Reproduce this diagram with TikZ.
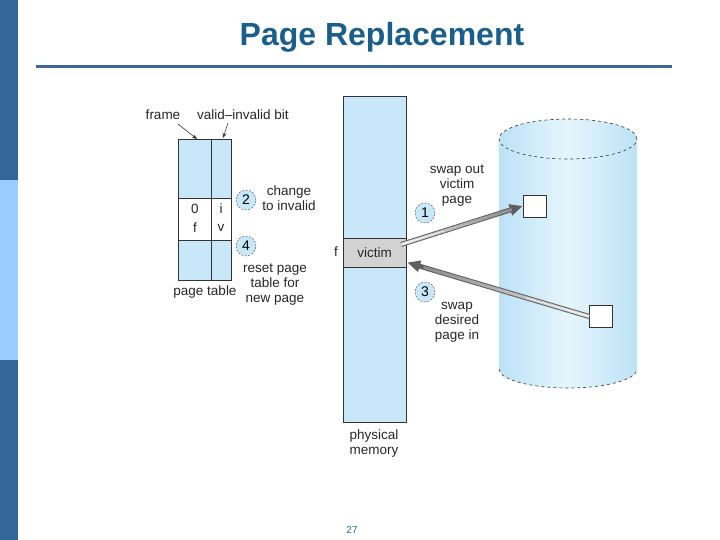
\documentclass[tikz,border=0pt]{standalone}
\usepackage{fontspec}
\setmainfont{Liberation Sans}
\usetikzlibrary{calc,arrows.meta}
\definecolor{sidedark}{RGB}{51,102,153}
\definecolor{sidelight}{RGB}{153,204,255}
\definecolor{titleblue}{RGB}{26,94,140}
\definecolor{rulecol}{RGB}{62,104,145}
\definecolor{cellblue}{RGB}{200,232,249}
\definecolor{victimgray}{RGB}{211,211,211}
\definecolor{cylside}{RGB}{188,226,246}
\definecolor{cylmid}{RGB}{230,245,253}
\definecolor{arlight}{RGB}{220,220,220}
\definecolor{ardark}{RGB}{95,95,95}
\begin{document}
\begin{tikzpicture}[x=1pt,y=-1pt,
  lbl/.style={inner sep=0pt,align=center,font=\fontsize{13.5}{15}\selectfont,text=black!85},
  circ/.style={circle,draw=black!70,dash pattern=on 2pt off 1.5pt,fill=cellblue,minimum size=20pt,inner sep=0pt,font=\fontsize{14}{14}\selectfont},
  cell/.style={draw=black!80,line width=0.6pt},
  sq/.style={draw=black!80,fill=white,minimum width=23pt,minimum height=22pt,inner sep=0pt,line width=0.6pt},
  small/.style={-{Stealth[length=5pt,width=4pt]},line width=0.6pt,black!80}]
\useasboundingbox (0,0) rectangle (720,540);
% side bar
\fill[sidedark] (0,0) rectangle (18,180);
\fill[sidelight] (0,180) rectangle (18,360);
\fill[sidedark] (0,360) rectangle (18,540);
% title
\node[font=\fontsize{32}{32}\selectfont\bfseries,text=titleblue,inner sep=0pt] (title) at (382,37) {Page Replacement};
\draw[rulecol,line width=3pt] (36,67) -- (672,67);
% page table
\fill[cellblue] (178,139) rectangle (231,198);
\fill[white] (178,198) rectangle (231,240);
\fill[cellblue] (178,240) rectangle (231,280);
\draw[cell] (178,139) rectangle (231,280);
\draw[cell] (211,139) -- (211,280);
\draw[cell] (178,198) -- (231,198);
\draw[cell] (178,240) -- (231,240);
\node[lbl] (n0) at (195,209) {0};
\node[lbl] (ni) at (221,209) {i};
\node[lbl] (nf) at (195,228) {f};
\node[lbl] (nv) at (221,228) {v};
\node[lbl] (frame) at (163,115) {frame};
\node[lbl] (vib) at (243,115) {valid–invalid bit};
\coordinate (ft) at (197,139);
\coordinate (vt) at (223,138);
\draw[small] (178,124) -- (ft);
\draw[small] (228,123) -- (vt);
\node[lbl] (pt) at (205,292) {page table};
\node[circ] (c2) at (246,200) {2};
\node[lbl] (chg) at (289,198) {change\\to invalid};
\node[circ] (c4) at (246,246) {4};
\node[lbl] (reset) at (275,285) {reset page\\table for\\new page};
% physical memory
\fill[cellblue] (343,96) rectangle (406,422);
\node[fill=victimgray,minimum width=63pt,minimum height=29pt,inner sep=0pt,lbl] (victim) at (374.5,252.5) {victim};
\draw[cell] (343,96) rectangle (406,422);
\draw[cell] (343,238) -- (406,238);
\draw[cell] (343,267) -- (406,267);
\node[lbl] (fm) at (336,252) {f};
\node[lbl] (pm) at (374,444) {physical\\memory};
% disk cylinder
\shade[left color=cylside,right color=cylside,middle color=cylmid]
  (499,139) -- (499,369) arc[start angle=180,end angle=0,x radius=69pt,y radius=-19pt] -- (637,139) -- cycle;
\shade[left color=cylside,right color=cylside,middle color=cylmid]
  (568,139) ellipse[x radius=69pt,y radius=20pt];
\draw[dashed,black!80,line width=0.6pt] (568,139) ellipse[x radius=69pt,y radius=20pt];
\draw[dashed,black!80,line width=0.6pt] (499,369) arc[start angle=180,end angle=0,x radius=69pt,y radius=-19pt];
\node[sq] (sq1) at (534.5,206) {};
\node[sq] (sq3) at (601,316.5) {};
% labels 1 and 3
\node[circ] (c1) at (425,213) {1};
\node[circ] (c3) at (425,292) {3};
\node[lbl] (so) at (457,186) {swap out\\victim\\page};
\node[lbl] (si) at (457,322) {swap\\desired\\page in};
% arrows
\coordinate (a1s) at ($(victim.east)+(-5,-8)$);
\coordinate (a3e) at ($(victim.east)+(1,10)$);
\foreach \s/\e in {a1s/sq1.west, sq3.west/a3e}{
  \draw[line width=5pt,ardark,-{Triangle[length=13pt,width=11pt]}] (\s) -- (\e);
  \foreach \i in {0,...,17}{
    \pgfmathtruncatemacro\q{100-\i*5}
    \draw[line width=3pt,arlight!\q!ardark!80] ($(\s)!\i/20!(\e)$) -- ($(\s)!\i/20+0.06!(\e)$);
  }
  \draw[line width=0.5pt,white] ($(\s)!0.01!(\e)$) -- ($(\s)!0.35!(\e)$);
}
% page number
\node[font=\fontsize{10}{10}\selectfont,text=sidedark,inner sep=0pt] (pg) at (352,530) {27};
\end{tikzpicture}
\end{document}
